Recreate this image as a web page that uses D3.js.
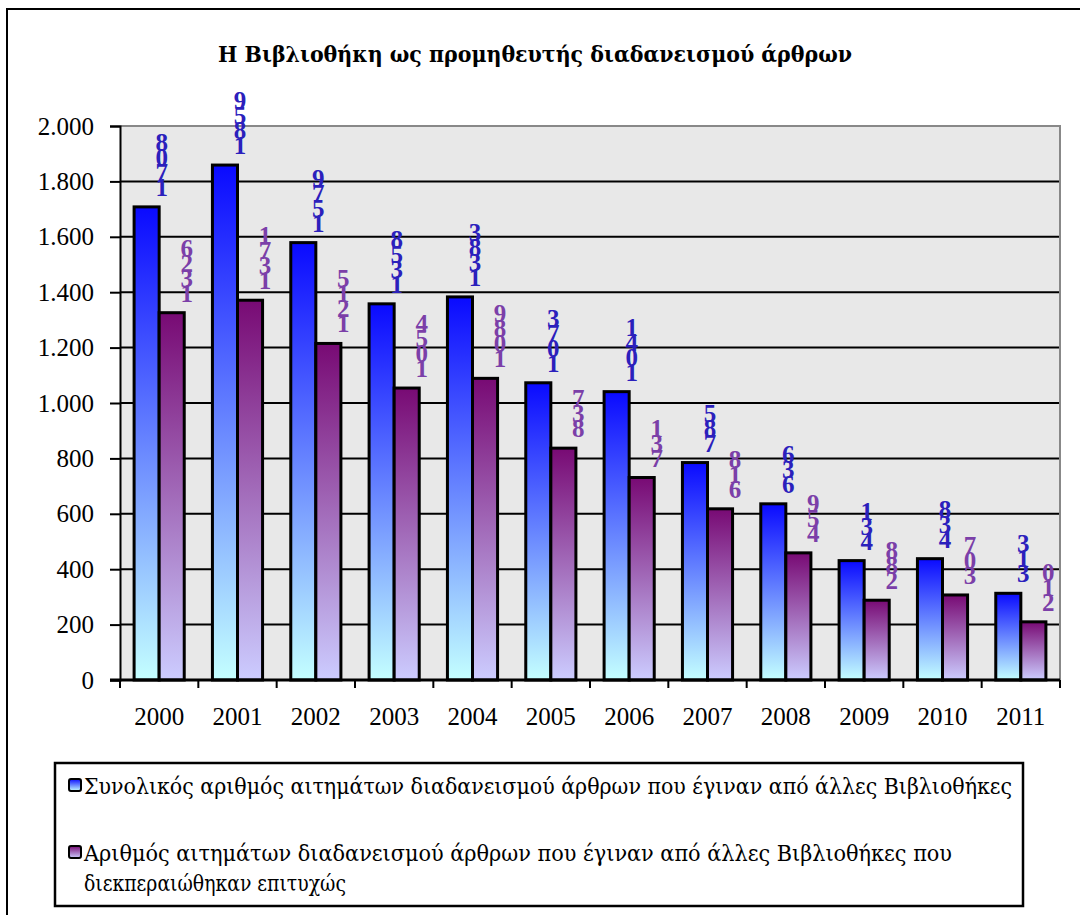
<!DOCTYPE html>
<html>
<head>
<meta charset="utf-8">
<script src="https://cdn.jsdelivr.net/npm/d3@7"></script>
<style>
  body { margin: 0; background: #fff; }
  text { font-family: "Liberation Serif", "DejaVu Serif", serif; }
  text.greek { font-family: "DejaVu Serif", serif; }
</style>
</head>
<body>
<div id="chart"></div>
<script>
const years = ["2000", "2001", "2002", "2003", "2004", "2005", "2006", "2007", "2008", "2009", "2010", "2011"];
const totalRequests = [1708, 1859, 1579, 1358, 1383, 1073, 1041, 785, 636, 431, 438, 313];
const successfulRequests = [1326, 1371, 1215, 1054, 1089, 837, 731, 618, 459, 288, 307, 210];
const yTicks = [0, 200, 400, 600, 800, 1000, 1200, 1400, 1600, 1800, 2000];
const seriesNames = [
    "Συνολικός αριθμός αιτημάτων διαδανεισμού άρθρων που έγιναν από άλλες Βιβλιοθήκες",
    "Αριθμός αιτημάτων διαδανεισμού άρθρων που έγιναν από άλλες Βιβλιοθήκες που",
    "διεκπεραιώθηκαν επιτυχώς"
];
const title = "Η Βιβλιοθήκη ως προμηθευτής διαδανεισμού άρθρων";

const width = 1080, height = 915;
const plot = { left: 120, top: 126, right: 1060, bottom: 680 };

const series = [
    { values: totalRequests, grad: "gBlue", label: "#2b20bc", top: "#0a0aff", bottom: "#c4ffff" },
    { values: successfulRequests, grad: "gPurple", label: "#7b3fa8", top: "#780a74", bottom: "#ccccff" }
];

const svg = d3.select("#chart").append("svg")
    .attr("width", width)
    .attr("height", height);

// gradients for bars
const defs = svg.append("defs");
series.forEach(function (s) {
    let g = defs.append("linearGradient")
        .attr("id", s.grad)
        .attr("x1", 0).attr("y1", 0).attr("x2", 0).attr("y2", 1);
    g.append("stop").attr("offset", "0%").attr("stop-color", s.top);
    g.append("stop").attr("offset", "100%").attr("stop-color", s.bottom);
});

// outer frame
svg.append("rect")
    .attr("x", 7).attr("y", 9)
    .attr("width", width + 20).attr("height", height + 20)
    .attr("fill", "#fff")
    .attr("stroke", "#000")
    .attr("stroke-width", 2);

svg.append("text")
    .attr("class", "greek")
    .attr("x", 535)
    .attr("y", 62)
    .attr("text-anchor", "middle")
    .attr("font-size", 22)
    .attr("font-weight", "bold")
    .attr("textLength", 634)
    .attr("lengthAdjust", "spacingAndGlyphs")
    .text(title);

let x = d3.scaleBand()
    .domain(years)
    .range([plot.left, plot.right]);

let y = d3.scaleLinear()
    .domain([0, 2000])
    .range([plot.bottom, plot.top]);

// plot background
svg.append("rect")
    .attr("x", plot.left).attr("y", plot.top)
    .attr("width", plot.right - plot.left)
    .attr("height", plot.bottom - plot.top)
    .attr("fill", "#e8e8e8");

// top / right border of plot
svg.append("path")
    .attr("d", "M" + plot.left + "," + plot.top + "H" + plot.right + "V" + plot.bottom)
    .attr("fill", "none")
    .attr("stroke", "#888")
    .attr("stroke-width", 2);

// gridlines
svg.selectAll(".grid")
    .data(yTicks.filter(function (d) { return d > 0 && d < 2000; }))
    .enter().append("line")
    .attr("class", "grid")
    .attr("x1", plot.left).attr("x2", plot.right - 1)
    .attr("y1", function (d) { return y(d); })
    .attr("y2", function (d) { return y(d); })
    .attr("stroke", "#000")
    .attr("stroke-width", 2);

// y axis
let yAxis = svg.append("g")
    .attr("transform", "translate(" + plot.left + ",0)")
    .call(d3.axisLeft(y)
        .tickValues(yTicks)
        .tickSize(10)
        .tickPadding(16)
        .tickFormat(function (d) { return d3.format(",")(d).replace(/,/g, "."); }));
yAxis.select(".domain").attr("stroke", "#000").attr("stroke-width", 2);
yAxis.selectAll(".tick line").attr("stroke", "#000").attr("stroke-width", 2);
yAxis.selectAll(".tick text")
    .attr("font-size", 25)
    .attr("font-family", null)
    .attr("fill", "#000");

// bars
let gap = x.bandwidth() * 0.18;
let bw = (x.bandwidth() - 2 * gap) / 2;

series.forEach(function (s, si) {
    let g = svg.append("g");
    g.selectAll("rect")
        .data(s.values)
        .enter().append("rect")
        .attr("x", function (d, i) { return x(years[i]) + gap + si * bw; })
        .attr("y", function (d) { return y(d); })
        .attr("width", bw)
        .attr("height", function (d) { return y(0) - y(d); })
        .attr("fill", "url(#" + s.grad + ")")
        .attr("stroke", "#000")
        .attr("stroke-width", 3);
});

// x axis
let xAxis = svg.append("g")
    .attr("transform", "translate(0," + plot.bottom + ")")
    .call(d3.axisBottom(x).tickSize(0).tickPadding(27));
xAxis.select(".domain").remove();
svg.append("line")
    .attr("x1", plot.left - 10).attr("x2", plot.right)
    .attr("y1", plot.bottom).attr("y2", plot.bottom)
    .attr("stroke", "#000").attr("stroke-width", 3);
xAxis.selectAll(".tick text")
    .attr("font-size", 25)
    .attr("font-family", null)
    .attr("fill", "#000");
svg.selectAll(".xtick")
    .data(years.concat(["end"]))
    .enter().append("line")
    .attr("class", "xtick")
    .attr("x1", function (d, i) { return plot.left + i * x.step(); })
    .attr("x2", function (d, i) { return plot.left + i * x.step(); })
    .attr("y1", plot.bottom).attr("y2", plot.bottom + 8)
    .attr("stroke", "#000").attr("stroke-width", 2);

// data labels: digits stacked vertically (reading upward)
series.forEach(function (s, si) {
    let g = svg.append("g");
    s.values.forEach(function (v, i) {
        let digits = String(v).split("");
        let cx = x(years[i]) + gap + si * bw + bw / 2 + 15;
        let base = y(v) - 11;
        digits.forEach(function (ch, k) {
            g.append("text")
                .attr("x", cx)
                .attr("y", base - k * 15)
                .attr("text-anchor", "middle")
                .attr("font-size", 25)
                .attr("font-weight", "bold")
                .attr("fill", s.label)
                .text(ch);
        });
    });
});

// legend
let legend = svg.append("g");
legend.append("rect")
    .attr("x", 55).attr("y", 763)
    .attr("width", 968).attr("height", 143)
    .attr("fill", "#fff")
    .attr("stroke", "#000")
    .attr("stroke-width", 2.5);

let legendItems = [
    { y: 794, grad: "gBlue", text: seriesNames[0], len: 928 },
    { y: 861, grad: "gPurple", text: seriesNames[1], len: 868 },
    { y: 891, grad: null, text: seriesNames[2], len: 262 }
];
legendItems.forEach(function (it) {
    if (it.grad) {
        legend.append("rect")
            .attr("x", 69).attr("y", it.y - 15)
            .attr("width", 12).attr("height", 12)
            .attr("rx", 2)
            .attr("fill", "url(#" + it.grad + ")")
            .attr("stroke", "#000")
            .attr("stroke-width", 2);
    }
    legend.append("text")
        .attr("class", "greek")
        .attr("x", 84).attr("y", it.y)
        .attr("font-size", 22)
        .attr("textLength", it.len)
        .attr("lengthAdjust", "spacingAndGlyphs")
        .text(it.text);
});
</script>
</body>
</html>
